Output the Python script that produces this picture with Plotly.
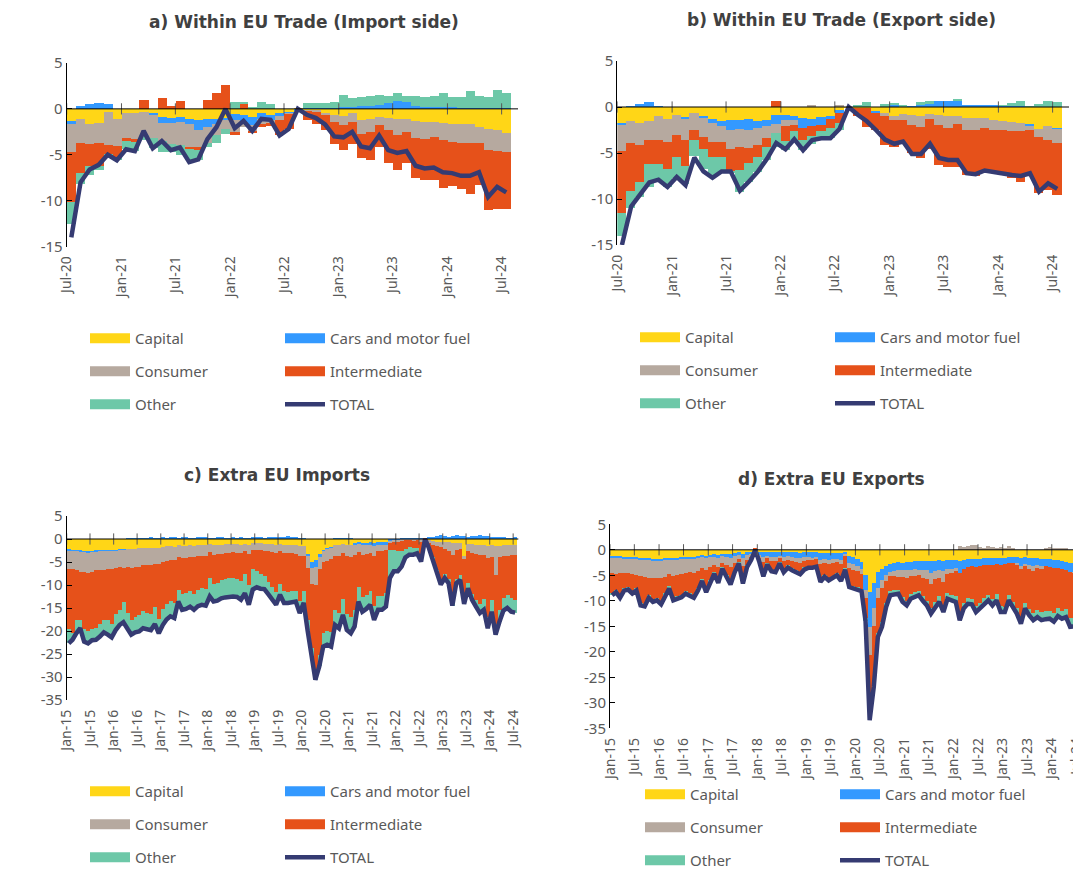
import pandas as pd
import plotly.graph_objects as go

# ---- a) Within EU Trade (Import side), monthly Jul-20 .. Jul-24 ----
a_capital = [-1.4, -1.05, -1.6, -1.5, -0.3, -1.15, -0.5, -0.45, -0.3, -0.5,
             -0.85, -0.95, -0.85, -1.05, -1.2, -1.15, -1.05, -0.95, -0.6, -0.7,
             -0.85, -0.5, -0.7, -0.5, -0.4, -0.1, -0.2, -0.2, -0.4, -0.7,
             -0.8, -0.4, -1.2, -1.05, -0.9, -0.95, -1.1, -1.15, -1.3, -1.4,
             -1.4, -1.5, -1.6, -1.6, -1.6, -1.95, -2.15, -2.3, -2.6]
a_cars = [-0.2, 0.3, 0.55, 0.65, 0.5, 0, 0, 0, 0, -0.2,
          -0.7, -0.55, -0.6, -0.6, -1.15, -0.8, -0.55, -0.3, -0.6, -0.7,
          -0.9, -0.55, -0.55, -0.3, -0.1, -0.1, 0.05, 0.05, 0.05, 0.05,
          0.2, 0.2, 0.3, 0.3, 0.4, 0.65, 0.85, 0.75, 0.3, 0.2,
          0.2, 0.2, 0.2, 0.15, 0.15, 0.15, 0.1, 0.1, 0.1]
a_consumer = [-3.1, -2.7, -2.2, -2.2, -3.6, -2.9, -2.7, -2.8, -2.5, -2.5,
              -2.0, -2.3, -2.45, -2.55, -1.9, -1.8, -1.25, -0.9, -1.35, -0.55,
              -0.7, -0.7, -0.3, -0.45, -0.1, 0, -0.05, -0.1, -0.25, -0.7,
              -1.0, -1.0, -1.5, -1.45, -0.9, -1.4, -1.8, -1.35, -1.9, -1.9,
              -1.7, -1.9, -2.0, -2.1, -2.1, -1.8, -2.3, -2.25, -2.15]
a_intermediate = [-5.4, -3.25, -2.45, -2.5, -1.0, -1.15, -0.3, -0.35, 0.95, 0,
                  1.15, 0.3, 0.9, -0.2, -0.2, 0.95, 1.75, 2.65, -0.25, 0.55,
                  -0.1, -0.2, -0.35, -1.65, -1.6, 0, -1.0, -1.4, -1.65, -2.4,
                  -2.7, -2.4, -2.7, -3.1, -2.4, -3.5, -3.8, -3.45, -4.35, -4.4,
                  -4.6, -5.25, -4.8, -5.0, -5.6, -4.6, -6.6, -6.4, -6.2]
a_other = [-2.5, -1.15, -1.0, -0.5, -0.4, -0.4, -0.9, -1.0, -0.6, -1.1,
           -1.1, -0.9, -1.1, -1.2, -1.1, -0.45, -0.9, -0.55, 0.7, 0.2,
           0.25, 0.7, 0.55, 0, 0, 0, 0.6, 0.6, 0.6, 0.7,
           1.3, 1.0, 1.0, 1.05, 1.15, 0.75, 0.9, 0.6, 1.1, 1.1,
           1.15, 1.55, 1.1, 1.1, 1.8, 1.3, 1.2, 2.0, 1.6]
a_total = [-14.0, -8.0, -6.6, -6.1, -5.0, -5.6, -4.4, -4.6, -2.4, -4.3,
           -3.5, -4.5, -4.2, -5.8, -5.5, -3.3, -2.0, 0.0, -2.1, -1.3,
           -2.4, -1.1, -1.2, -2.9, -2.2, 0.0, -0.65, -1.0, -1.7, -3.0,
           -3.1, -2.5, -4.1, -4.3, -2.9, -4.5, -4.8, -4.6, -6.2, -6.5,
           -6.4, -6.9, -7.0, -7.3, -7.3, -6.9, -9.6, -8.5, -9.1]

# ---- b) Within EU Trade (Export side), monthly Jul-20 .. Jul-24 ----
b_capital = [-1.8, -1.55, -1.75, -1.55, -0.95, -1.3, -0.85, -1.1, -0.65, -1.0,
             -1.3, -1.55, -1.4, -1.45, -1.3, -1.55, -1.45, -0.85, -0.85, -0.95,
             -1.2, -1.3, -1.1, -0.95, -0.35, -0.1, -0.1, -0.1, -0.45, -0.65,
             -0.95, -0.75, -0.85, -1.0, -0.75, -0.85, -1.0, -1.0, -1.2, -1.2,
             -1.2, -1.4, -1.55, -1.65, -1.75, -1.95, -2.4, -2.1, -2.35]
b_cars = [-0.2, 0.1, 0.3, 0.5, 0.1, 0, 0, -0.2, 0, -0.2,
          -0.45, -0.55, -1.1, -0.95, -1.15, -0.75, -0.65, -1.0, -0.55, -0.45,
          -1.1, -0.8, -0.85, -0.35, -0.3, 0, 0, 0, -0.2, 0,
          0.3, 0.1, 0.1, 0.3, 0.3, 0.6, 0.6, 0.75, 0.25, 0.2,
          0.2, 0.15, 0.15, 0.1, 0.1, -0.15, 0, 0, -0.05]
b_consumer = [-2.8, -2.35, -2.35, -2.05, -2.6, -2.55, -2.2, -2.25, -1.9, -2.1,
              -2.0, -1.65, -2.1, -1.9, -2.0, -1.8, -1.25, -0.95, -0.7, -0.55,
              0, 0.25, 0, 0, 0.2, 0, 0, 0, 0, -0.35,
              -0.5, -0.65, -1.1, -1.15, -0.5, -1.1, -1.3, -0.9, -1.25, -1.25,
              -1.1, -1.1, -0.9, -1.0, -0.9, -0.35, -0.85, -1.45, -1.5]
b_intermediate = [-6.7, -5.2, -4.0, -2.55, -2.6, -2.9, -2.35, -2.85, -1.0, -1.25,
                  -1.65, -1.65, -2.45, -2.55, -1.65, -1.3, -1.0, 0.6, -1.55, -0.7,
                  -1.25, -1.1, -0.7, -1.0, -1.1, 0, -0.9, -2.1, -1.8, -3.1,
                  -2.85, -2.55, -3.1, -3.4, -3.35, -4.35, -4.2, -4.65, -4.9, -5.0,
                  -4.85, -4.7, -4.9, -5.1, -5.55, -5.1, -6.1, -5.45, -5.65]
b_other = [-2.5, -1.9, -1.7, -2.5, -1.9, -1.95, -2.35, -1.95, -1.8, -2.2,
           -2.2, -1.8, -0.15, -2.35, -2.1, -1.65, -1.4, -1.5, -1.0, -0.9,
           -1.1, -0.8, -0.9, -1.1, -0.7, 0, 0.2, 0.55, 0, 0.3,
           0.15, 0.1, 0, 0.2, 0.3, 0, 0, 0.05, 0, 0,
           0, 0, 0.05, 0.3, 0.5, 0.1, 0.3, 0.6, 0.5]
b_total = [-15.0, -10.8, -9.5, -8.2, -7.9, -8.7, -7.6, -8.5, -5.5, -7.0,
           -7.7, -7.0, -7.0, -9.1, -8.1, -7.0, -5.6, -3.9, -4.6, -3.5,
           -4.7, -3.6, -3.4, -3.4, -2.4, 0.0, -0.85, -1.55, -2.5, -3.55,
           -4.0, -3.75, -5.1, -5.1, -4.0, -5.55, -5.75, -5.75, -7.2, -7.3,
           -6.9, -7.1, -7.3, -7.4, -7.5, -7.2, -9.2, -8.3, -8.9]

# ---- c) Extra EU Imports, monthly Jan-15 .. Jul-24 ----
c_capital = [-2.3, -2.4, -2.4, -2.6, -2.7, -2.8, -2.7, -2.6, -2.6, -2.5, -2.5, -2.4, -2.4, -2.3, -2.2,
             -2.1, -2.2, -2.1, -2.0, -2.0, -1.9, -2.0, -1.9, -2.0, -1.7, -1.6, -1.6, -1.7, -1.3, -1.5,
             -1.5, -1.4, -1.5, -1.4, -1.4, -1.3, -1.1, -1.2, -1.2, -1.2, -1.1, -1.1, -1.1, -1.1, -1.2,
             -1.0, -1.2, -0.9, -0.9, -0.9, -1.0, -1.0, -1.1, -1.2, -1.0, -1.2, -1.2, -1.2, -1.3, -1.5,
             -1.6, -3.2, -4.9, -4.6, -3.2, -2.4, -2.0, -1.8, -1.3, -1.3, -1.1, -1.2, -1.3, -0.8, -0.7,
             -0.8, -0.8, -0.7, -0.9, -0.7, -0.6, -0.6, -0.2, -0.2, -0.2, -0.2, -0.1, -0.1, -0.1, -0.1,
             -0.2, -0.1, -0.4, -0.5, -0.6, -0.6, -0.6, -0.7, -0.9, -0.8, -0.9, -3.8, -1.0, -1.1, -1.2,
             -1.3, -1.3, -1.5, -1.4, -1.6, -1.5, -1.4, -1.3, -1.3, -1.3]
c_cars = [-0.4, -0.3, -0.3, -0.3, -0.2, -0.2, -0.2, -0.2, -0.1, -0.1, -0.1, -0.1, -0.1, -0.1, -0.1,
          0.1, 0.1, 0.2, 0.1, 0.2, 0.2, 0.3, 0.2, 0.2, 0.3, 0.2, 0.3, 0.3, 0.2, 0.3,
          0.3, 0.2, 0.2, 0.3, 0.4, 0.3, 0.2, 0.2, 0.3, 0.3, 0.2, 0.2, 0.3, 0.2, 0.3,
          0.2, 0.2, 0.3, 0.3, 0.4, 0.2, 0.3, 0.3, 0.4, 0.3, 0.5, 0.6, 0.4, 0.3, 0.2,
          0.2, -0.5, -1.3, -1.5, -0.8, -0.3, -0.2, -0.2, 0.2, 0.2, 0.2, 0.2, 0.2, -0.5, -0.4,
          -0.5, -0.5, -0.5, -0.6, -0.5, -0.7, -0.6, -0.2, -0.1, -0.1, 0.1, 0.1, 0.1, 0.1, 0.1,
          0.1, 0.1, 0.3, 0.5, 0.6, 0.8, 0.7, 0.5, 0.6, 0.8, 0.7, 0.6, 0.5, 0.6, 0.7,
          0.8, 0.7, 0.6, 0.5, 0.4, 0.3, 0.3, 0.2, 0.2, 0.3]
c_consumer = [-3.8, -3.9, -4.0, -4.2, -4.3, -4.3, -4.2, -4.0, -4.1, -4.1, -3.9, -4.0, -3.8, -3.7, -3.9,
              -4.0, -4.1, -3.9, -4.0, -3.7, -3.8, -3.6, -3.5, -3.4, -3.3, -3.2, -3.0, -2.9, -2.6, -2.7,
              -2.6, -2.5, -2.5, -2.4, -2.3, -2.3, -1.8, -2.2, -2.1, -2.0, -2.0, -1.9, -1.8, -1.9, -1.9,
              -1.7, -2.0, -1.5, -1.4, -1.5, -1.5, -1.6, -1.8, -1.9, -1.7, -1.9, -1.9, -1.8, -1.9, -2.1,
              -2.0, -2.6, -3.5, -4.0, -2.6, -2.3, -2.5, -2.4, -2.4, -2.5, -2.0, -2.6, -2.6, -2.2, -1.8,
              -2.2, -2.0, -1.8, -2.3, -1.4, -1.2, -1.1, -0.5, -0.4, -0.3, -0.3, -0.2, -0.2, -0.3, -0.2,
              -0.4, 0.0, -0.4, -0.7, -0.9, -1.2, -1.5, -1.8, -2.6, -1.5, -1.3, -0.5, -1.5, -2.0, -2.1,
              -2.2, -2.2, -2.6, -2.6, -6.2, -2.5, -2.2, -2.3, -2.2, -2.1]
c_intermediate = [-13.0, -13.8, -11.0, -10.5, -12.3, -12.6, -12.4, -12.6, -11.6, -10.8, -11.0, -12.0, -10.0, -9.3, -7.5,
                  -10.0, -11.2, -11.0, -10.6, -10.0, -10.4, -10.8, -9.3, -11.9, -10.3, -9.3, -8.8, -9.3, -7.2, -7.7,
                  -7.6, -7.4, -7.9, -7.3, -7.0, -7.3, -5.6, -6.4, -6.3, -5.8, -5.6, -5.5, -5.5, -5.6, -6.0,
                  -4.9, -6.8, -4.2, -4.7, -5.1, -5.5, -6.8, -7.6, -8.4, -7.0, -8.2, -8.4, -8.3, -8.0, -9.8,
                  -7.8, -11.3, -14.1, -18.5, -18.6, -15.4, -15.3, -15.9, -11.8, -12.3, -10.0, -12.5, -13.0, -12.0, -7.5,
                  -9.2, -8.8, -8.3, -10.7, -9.7, -9.9, -9.4, -1.4, -1.6, -2.0, -2.2, -1.8, -1.5, -1.6, -1.6,
                  -2.8, 0.1, -1.0, -2.8, -5.3, -7.0, -5.6, -6.2, -10.0, -6.5, -5.7, -8.8, -7.1, -8.9, -10.0,
                  -10.6, -9.6, -12.9, -9.3, -10.7, -11.5, -9.3, -8.6, -9.4, -9.8]
c_other = [-3.2, -1.5, -2.4, -1.8, -2.8, -2.8, -2.5, -2.5, -2.8, -2.8, -3.3, -2.9, -3.5, -3.3, -4.4,
           -3.3, -3.3, -3.3, -3.5, -3.7, -3.5, -3.4, -3.8, -3.2, -3.4, -3.4, -3.4, -3.3, -2.5, -3.5,
           -3.5, -3.4, -3.5, -3.5, -3.6, -3.6, -4.0, -3.8, -3.8, -3.9, -4.0, -4.0, -4.1, -4.0, -4.1,
           -4.2, -4.3, -4.4, -3.5, -3.3, -2.9, -2.6, -2.7, -2.8, -2.4, -2.6, -2.4, -2.4, -2.4, -2.7,
           -2.5, -2.2, -1.8, -2.0, -2.5, -3.0, -3.0, -3.1, -3.2, -3.3, -3.4, -3.5, -3.6, -3.5, -3.2,
           -3.1, -3.1, -3.0, -3.1, -3.1, -3.0, -3.0, -6.2, -4.7, -4.4, -3.3, -1.9, -1.6, -1.4, -1.2,
           -1.5, 0.0, -0.2, -0.5, -0.7, -1.1, -0.8, -0.9, -1.0, -0.8, -1.0, -1.0, -1.1, -1.2, -1.4,
           -2.0, -2.3, -2.4, -2.5, -2.3, -2.5, -2.7, -2.8, -2.9, -2.8]
c_total = [-22.7, -21.9, -20.5, -19.4, -22.3, -22.7, -22.0, -21.9, -21.2, -20.3, -20.8, -21.4, -19.8, -18.7, -18.1,
           -19.4, -20.8, -20.3, -20.1, -19.4, -19.6, -19.8, -18.5, -20.5, -18.7, -17.5, -16.8, -17.2, -13.6, -15.4,
           -15.2, -14.7, -15.4, -14.6, -14.3, -14.5, -12.5, -13.6, -13.4, -12.9, -12.7, -12.5, -12.5, -12.6, -13.2,
           -11.8, -14.3, -11.0, -10.5, -10.8, -10.9, -12.0, -13.2, -14.3, -12.1, -13.9, -13.9, -13.7, -13.6, -16.1,
           -13.9, -19.8, -25.6, -30.6, -27.7, -23.4, -23.0, -23.4, -18.7, -19.4, -16.5, -19.8, -20.5, -19.0, -13.6,
           -15.8, -15.2, -14.3, -17.6, -15.4, -15.4, -14.7, -8.5, -7.0, -7.0, -6.0, -4.0, -3.4, -3.4, -3.1,
           -4.9, 0.0, -2.0, -4.5, -7.5, -9.9, -8.5, -9.6, -14.5, -9.6, -8.9, -14.1, -10.7, -13.2, -14.7,
           -16.1, -15.4, -19.4, -15.8, -20.8, -18.0, -15.6, -15.0, -15.8, -16.0]

# ---- d) Extra EU Exports, monthly Jan-15 .. Jul-24 ----
d_capital = [-1.3, -1.4, -1.4, -1.5, -1.5, -1.6, -1.6, -1.7, -1.8, -1.8, -1.9, -1.9,
             -1.9, -1.8, -1.6, -1.8, -1.7, -1.6, -1.5, -1.5, -1.5, -1.3, -1.1, -1.2,
             -1.0, -0.9, -1.0, -0.8, -0.8, -0.9, -0.7, -0.5, -0.8, -0.5, -0.4, -0.1,
             -0.4, -0.5, -0.4, -0.5, -0.5, -0.4, -0.5, -0.4, -0.5, -0.5, -0.6, -0.5,
             -0.5, -0.5, -0.5, -0.7, -0.6, -0.7, -0.6, -0.6, -0.7, -0.5, -1.2, -1.4,
             -1.8, -2.5, -5.0, -8.3, -6.5, -4.5, -3.8, -3.2, -2.8, -2.7, -2.5, -2.6,
             -2.5, -2.4, -2.3, -2.3, -2.2, -2.2, -2.3, -2.2, -2.1, -2.2, -2.0, -2.0,
             -2.0, -2.2, -2.0, -1.9, -1.8, -1.9, -1.8, -1.7, -1.7, -1.6, -1.6, -1.7,
             -1.6, -1.4, -1.4, -1.5, -1.7, -1.5, -1.6, -1.7, -1.7, -1.8, -1.9, -1.9,
             -2.0, -2.1, -2.3, -2.4, -2.6, -2.7, -2.8]
d_cars = [-0.3, -0.3, -0.3, -0.3, -0.3, -0.3, -0.3, -0.3, -0.3, -0.3, -0.3, -0.3,
          -0.3, -0.3, -0.4, -0.3, -0.3, -0.3, -0.3, -0.3, -0.3, -0.4, -0.4, -0.4,
          -0.5, -0.5, -0.6, -0.5, -0.6, -0.7, -0.6, -0.5, -0.8, -0.6, -0.4, -0.1,
          -0.7, -1.0, -0.8, -0.9, -1.0, -0.8, -1.0, -0.9, -1.0, -1.1, -1.1, -1.0,
          -1.0, -1.1, -1.0, -1.3, -1.2, -1.3, -1.3, -1.2, -1.3, -0.3, -1.5, -1.5,
          -1.5, -1.4, -3.0, -6.8, -5.0, -3.0, -2.2, -1.8, -1.6, -1.5, -1.6, -1.5,
          -1.5, -1.6, -1.6, -1.7, -1.8, -1.8, -2.4, -2.0, -1.9, -2.1, -1.8, -1.8,
          -1.7, -2.5, -1.8, -1.6, -1.5, -1.6, -1.5, -1.4, -1.3, -1.4, -1.3, -1.4,
          -1.3, -1.2, -1.3, -1.3, -1.5, -1.3, -1.4, -1.5, -1.4, -1.5, -1.4, -1.5,
          -1.6, -1.5, -1.6, -1.6, -1.8, -1.8, -1.9]
d_consumer = [-3.0, -3.1, -3.0, -2.9, -2.9, -3.0, -3.1, -3.2, -3.3, -3.4, -3.3, -3.4,
              -3.3, -3.2, -2.9, -3.0, -3.0, -2.9, -2.8, -2.7, -2.8, -2.5, -2.2, -2.4,
              -2.0, -1.7, -1.9, -1.3, -1.6, -1.8, -1.4, -0.9, -1.7, -1.0, -0.6, 0.1,
              -0.5, -1.0, -0.5, -0.8, -0.8, -0.5, -0.8, -0.7, -0.7, -0.8, -0.9, -0.7,
              -0.5, -0.5, -0.4, -0.9, -0.8, -0.9, -0.8, -0.7, -0.9, -0.5, -1.0, -1.1,
              -1.0, -0.9, -1.5, -5.6, -3.5, -2.0, -1.5, -1.2, -0.8, -1.0, -1.2, -1.3,
              -1.5, -1.2, -1.3, -1.0, -1.5, -1.8, -2.0, -1.5, -1.6, -2.0, -1.0, -0.8,
              -0.5, 0.6, 0.4, 0.7, 0.9, 0.8, 0.5, 0.3, 0.7, 0.4, 0.2, 0.5,
              0.3, 0.6, 0.2, -0.3, -0.6, -0.5, -0.8, -1.0, -0.6, -0.5, 0.3, 0.4,
              0.2, 0.3, 0.2, 0.1, 0.0, -0.1, -0.1]
d_intermediate = [-4.0, -3.2, -4.4, -3.0, -2.8, -3.4, -2.7, -5.4, -5.4, -3.6, -4.4, -4.0,
                  -4.8, -3.2, -2.4, -4.4, -4.2, -4.1, -3.6, -4.0, -4.4, -3.5, -2.1, -3.9,
                  -2.5, -1.4, -2.7, -0.9, -2.0, -3.1, -1.5, -0.6, -3.0, -1.1, -0.5, 0.1,
                  -0.6, -2.3, -1.0, -1.7, -1.8, -0.8, -1.7, -1.2, -1.5, -1.7, -1.9, -1.4,
                  -1.3, -1.2, -1.2, -3.1, -2.4, -2.8, -2.5, -2.2, -2.9, -2.4, -3.3, -3.2,
                  -3.1, -2.9, -4.0, -12.0, -11.0, -6.8, -6.8, -4.3, -3.0, -2.8, -2.6, -4.0,
                  -4.5, -3.6, -3.2, -3.1, -3.6, -4.2, -4.8, -4.5, -3.6, -4.8, -3.8, -4.3,
                  -5.0, -7.9, -6.6, -6.1, -6.4, -7.6, -7.1, -6.4, -5.9, -6.8, -5.9, -7.9,
                  -8.4, -6.4, -7.5, -8.3, -9.4, -7.1, -7.8, -8.3, -8.2, -8.5, -8.8, -8.6,
                  -8.9, -7.8, -8.1, -7.7, -9.1, -8.8, -9.0]
d_other = [-0.3, -0.3, -0.3, -0.3, -0.3, -0.3, -0.3, -0.3, -0.3, -0.3, -0.3, -0.3,
           -0.4, -0.4, -0.3, -0.4, -0.4, -0.4, -0.4, -0.4, -0.4, -0.3, -0.3, -0.4,
           -0.3, -0.2, -0.3, -0.2, -0.3, -0.3, -0.2, -0.2, -0.3, -0.2, -0.1, 0.0,
           -0.2, -0.4, -0.2, -0.3, -0.3, -0.2, -0.4, -0.3, -0.3, -0.3, -0.3, -0.3,
           -0.2, -0.2, -0.2, -0.3, -0.3, -0.3, -0.3, -0.3, -0.3, -0.2, -0.3, -0.4,
           -0.4, -0.4, -0.5, -0.7, -0.9, -0.8, -0.8, -0.7, -0.7, -0.7, -0.7, -0.8,
           -0.9, -0.8, -0.8, -0.8, -0.9, -0.9, -1.0, -1.0, -1.0, -1.1, -1.0, -1.0,
           -1.0, -1.2, -1.1, -1.0, -1.0, -1.1, -1.1, -1.0, -1.0, -1.1, -1.1, -1.2,
           -0.9, -0.9, -1.0, -1.1, -1.3, -1.1, -1.2, -1.3, -1.3, -1.5, -1.5, -1.5,
           -1.6, -1.6, -1.5, -1.5, -1.6, -1.6, -1.6]
d_total = [-8.9, -8.3, -9.4, -8.0, -7.8, -8.6, -8.0, -10.9, -11.1, -9.4, -10.2, -9.9,
           -10.7, -8.9, -7.6, -9.9, -9.6, -9.3, -8.6, -8.9, -9.4, -8.0, -6.1, -8.3,
           -6.3, -4.7, -6.5, -3.7, -5.3, -6.8, -4.4, -2.7, -6.6, -3.4, -2.0, 0.0,
           -2.4, -5.2, -2.9, -4.2, -4.4, -2.7, -4.4, -3.5, -4.0, -4.4, -4.8, -3.9,
           -3.5, -3.5, -3.3, -6.3, -5.3, -6.0, -5.5, -5.0, -6.1, -3.9, -7.3, -7.6,
           -7.8, -8.1, -14.0, -33.4, -26.9, -17.1, -15.1, -11.2, -8.9, -8.7, -8.6, -10.2,
           -10.9, -9.6, -9.2, -8.9, -10.0, -10.9, -12.5, -11.2, -10.2, -12.2, -9.6, -9.9,
           -10.2, -13.8, -11.5, -10.6, -10.7, -12.2, -11.5, -10.5, -9.9, -10.9, -9.9, -12.2,
           -12.2, -9.9, -11.2, -12.5, -14.5, -11.5, -12.8, -13.8, -13.2, -13.8, -13.6, -13.5,
           -14.1, -13.0, -13.5, -13.2, -15.1, -15.0, -15.4]

series_names = ["Capital", "Cars and motor fuel", "Consumer", "Intermediate", "Other"]
colors = ["#FFD617", "#3399FF", "#B6A99F", "#E6511A", "#6DC8A8"]
total_color = "#353B72"
grey = "#595959"
font = "Noto Sans"

W, H = 1081, 870
PAGE = 8  # the page body margin the figure sits inside


def px_x(v):
    return (v - PAGE) / W


def px_y(v):
    return 1 - (v - PAGE) / H


panels = [
    dict(title="a) Within EU Trade (Import side)", start="2020-07-01", end="2024-08-25",
         data=[a_capital, a_cars, a_consumer, a_intermediate, a_other], total=a_total,
         xdom=[66.7, 518], ydom=[246.5, 63], yr=[-15, 5], head=(304, 22),
         leg=(85, 280, 322)),
    dict(title="b) Within EU Trade (Export side)", start="2020-07-01", end="2024-08-25",
         data=[b_capital, b_cars, b_consumer, b_intermediate, b_other], total=b_total,
         xdom=[617.3, 1069], ydom=[245, 61], yr=[-15, 5], head=(841, 20),
         leg=(635, 830, 321)),
    dict(title="c) Extra EU Imports", start="2015-01-01", end="2024-08-10",
         data=[c_capital, c_cars, c_consumer, c_intermediate, c_other], total=c_total,
         xdom=[66.7, 518.3], ydom=[700, 516], yr=[-35, 5], head=(277, 475),
         leg=(85, 280, 775)),
    dict(title="d) Extra EU Exports", start="2015-01-01", end="2024-10-04",
         data=[d_capital, d_cars, d_consumer, d_intermediate, d_other], total=d_total,
         xdom=[610, 1089], ydom=[728.3, 524.3], yr=[-35, 5], head=(831, 479),
         leg=(640, 835, 778)),
]

fig = go.Figure()
layout = {}
annotations = []
shapes = []

for k, p in enumerate(panels):
    n = len(p["total"])
    for s in p["data"]:
        assert len(s) == n, (p["title"], len(s), n)
    first = pd.date_range(p["start"], periods=n, freq="MS")
    days = first.days_in_month.astype(float)
    mid = first + pd.to_timedelta(days / 2, unit="D")
    width = [d * 86400000.0 for d in days]
    sfx = "" if k == 0 else str(k + 1)
    xa, ya = "x" + sfx, "y" + sfx

    for name, col, vals in zip(series_names, colors, p["data"]):
        fig.add_trace(go.Bar(x=mid, y=vals, width=width, marker_color=col,
                             marker_line_width=0, name=name, showlegend=False,
                             xaxis=xa, yaxis=ya))
    fig.add_trace(go.Scatter(x=mid, y=p["total"], mode="lines", name="TOTAL",
                             line=dict(color=total_color, width=4.5),
                             showlegend=False, xaxis=xa, yaxis=ya))

    ticks = pd.date_range(p["start"], mid[-1], freq="6MS")
    fig.add_trace(go.Scatter(x=ticks, y=[0] * len(ticks), mode="markers",
                             marker=dict(symbol="line-ns", size=8,
                                         line=dict(width=1, color=grey)),
                             showlegend=False, hoverinfo="skip",
                             xaxis=xa, yaxis=ya))

    # legend: two columns, each its own legend
    lid_left = "legend" if k == 0 else "legend%d" % (2 * k + 1)
    lid_right = "legend%d" % (2 * k + 2)
    cols = {lid_left: ["Capital", "Consumer", "Other"],
            lid_right: ["Cars and motor fuel", "Intermediate", "TOTAL"]}
    for lid, names in cols.items():
        for name in names:
            if name == "TOTAL":
                ln = dict(color=total_color, width=4.5)
            else:
                ln = dict(color=colors[series_names.index(name)], width=10)
            fig.add_trace(go.Scatter(x=[None], y=[None], mode="lines", name=name,
                                     line=ln, legend=lid, legendgroup=f"{k}{name}",
                                     xaxis=xa, yaxis=ya))
    lx_left, lx_right, ly = p["leg"]
    for lid, lx in [(lid_left, lx_left), (lid_right, lx_right)]:
        layout[lid] = dict(x=px_x(lx), y=px_y(ly), xanchor="left", yanchor="top",
                           bgcolor="rgba(0,0,0,0)", tracegroupgap=10.5, itemwidth=40,
                           font=dict(family=font, size=15, color=grey))

    yticks = list(range(p["yr"][0], p["yr"][1] + 1, 5))
    layout["xaxis" + sfx] = dict(
        type="date", domain=[px_x(p["xdom"][0]), min(1.0, px_x(p["xdom"][1]))],
        range=[p["start"], p["end"]], anchor=ya, tickvals=ticks, tickformat="%b-%y",
        tickangle=-90, ticks="", showgrid=False, zeroline=False, showline=False,
        automargin=False, ticklabelstandoff=6,
        tickfont=dict(family=font, size=14, color=grey))
    layout["yaxis" + sfx] = dict(
        domain=[px_y(p["ydom"][0]), px_y(p["ydom"][1])], range=p["yr"], anchor=xa,
        tickvals=yticks, ticktext=[str(t) for t in yticks], ticks="inside",
        ticklen=5, tickcolor="black", showline=True, linecolor="black", linewidth=1,
        showgrid=False, zeroline=False, automargin=False,
        tickfont=dict(family=font, size=15, color=grey))

    shapes.append(dict(type="line", xref=xa + " domain", yref=ya, x0=0, x1=1, y0=0, y1=0,
                       line=dict(color="black", width=1), layer="above"))
    annotations.append(dict(text="<b>" + p["title"] + "</b>", xref="paper", yref="paper",
                            x=px_x(p["head"][0]), y=px_y(p["head"][1]),
                            xanchor="center", yanchor="middle", showarrow=False,
                            font=dict(family="DejaVu Sans", size=17, color="#404040")))

fig.update_layout(width=W, height=H,
                  margin=dict(l=0, r=0, t=0, b=0, autoexpand=False),
                  barmode="relative", bargap=0, plot_bgcolor="white",
                  paper_bgcolor="white", annotations=annotations, shapes=shapes,
                  **layout)

fig.write_html("out.html")
